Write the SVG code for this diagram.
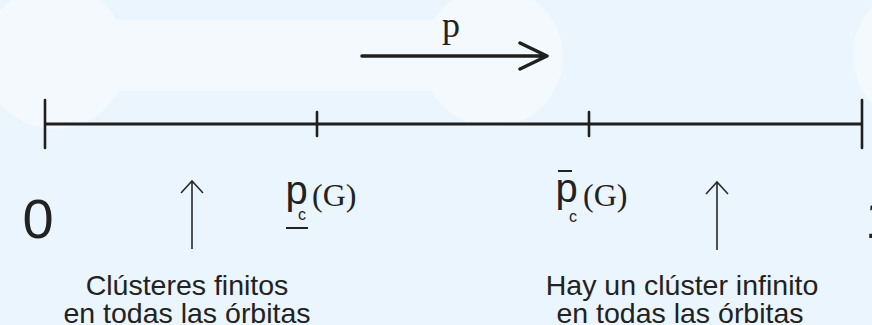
<svg xmlns="http://www.w3.org/2000/svg" width="872" height="325" viewBox="0 0 872 325">
  <style>
    .bg { fill: #EBF5FE; }
    .blob { fill: #F4F9FE; }
    .axis { stroke: #1f1f1f; stroke-width: 3; stroke-linecap: butt; fill: none; }
    .tick { stroke: #1f1f1f; stroke-width: 2.6; stroke-linecap: round; fill: none; }
    .parrow { stroke: #1f1f1f; stroke-width: 3.5; stroke-linecap: round; stroke-linejoin: round; fill: none; }
    .uparrow { stroke: #2a2a2a; stroke-width: 1.6; stroke-linecap: butt; stroke-linejoin: miter; fill: none; }
    .sans { font-family: "Liberation Sans", Arial, sans-serif; fill: #222; }
    .serif { font-family: "Liberation Serif", "Times New Roman", serif; fill: #222; }
    .bar { stroke: #222; stroke-width: 2; }
    .lbl { font-size: 28.5px; text-anchor: middle; }
    .sub { font-size: 16px; }
  </style>
  <rect class="bg" x="0" y="0" width="872" height="325"/>
  <g id="background">
    <circle class="blob" cx="55" cy="57" r="72"/>
    <rect class="blob" x="100" y="20" width="350" height="71"/>
    <circle class="blob" cx="493" cy="57" r="70"/>
    <circle class="blob" cx="925" cy="55" r="72"/>
  </g>
  <g id="connectors">
    <line class="axis" x1="45" y1="124" x2="862" y2="124"/>
    <path class="parrow" d="M362 56 H546 M520 43 L547 56 L520 69"/>
    <path class="uparrow" d="M192 249 V181 M181 193 L192 181 L203 193"/>
    <path class="uparrow" d="M717 250 V182 M706 194 L717 182 L728 194"/>
  </g>
  <g id="tick-0">
    <line class="tick" x1="45" y1="100" x2="45" y2="148"/>
    <text class="sans" x="38" y="238" font-size="56" text-anchor="middle">0</text>
  </g>
  <g id="tick-pc-lower">
    <line class="tick" x1="317" y1="112" x2="317" y2="136"/>
    <text class="sans" x="285.5" y="204" font-size="40">p</text>
    <text class="sans sub" x="298" y="220">c</text>
    <line class="bar" x1="286" y1="228" x2="308" y2="228"/>
    <text class="serif" x="312" y="206" font-size="32">(G)</text>
  </g>
  <g id="tick-pc-upper">
    <line class="tick" x1="589" y1="112" x2="589" y2="136"/>
    <line class="bar" x1="558" y1="171" x2="572" y2="171"/>
    <text class="sans" x="555.5" y="202" font-size="40">p</text>
    <text class="sans sub" x="569" y="222">c</text>
    <text class="serif" x="583" y="206" font-size="32">(G)</text>
  </g>
  <g id="tick-1">
    <line class="tick" x1="862" y1="100" x2="862" y2="148"/>
    <text class="sans" x="865" y="238" font-size="56">1</text>
  </g>
  <g id="label-p">
    <text class="serif" x="451" y="37" font-size="36" text-anchor="middle">p</text>
  </g>
  <g id="label-finite">
    <text class="sans lbl" x="187" y="295">Clústeres finitos</text>
    <text class="sans lbl" x="187" y="323">en todas las órbitas</text>
  </g>
  <g id="label-infinite">
    <text class="sans lbl" x="682" y="295">Hay un clúster infinito</text>
    <text class="sans lbl" x="680" y="323">en todas las órbitas</text>
  </g>
</svg>
